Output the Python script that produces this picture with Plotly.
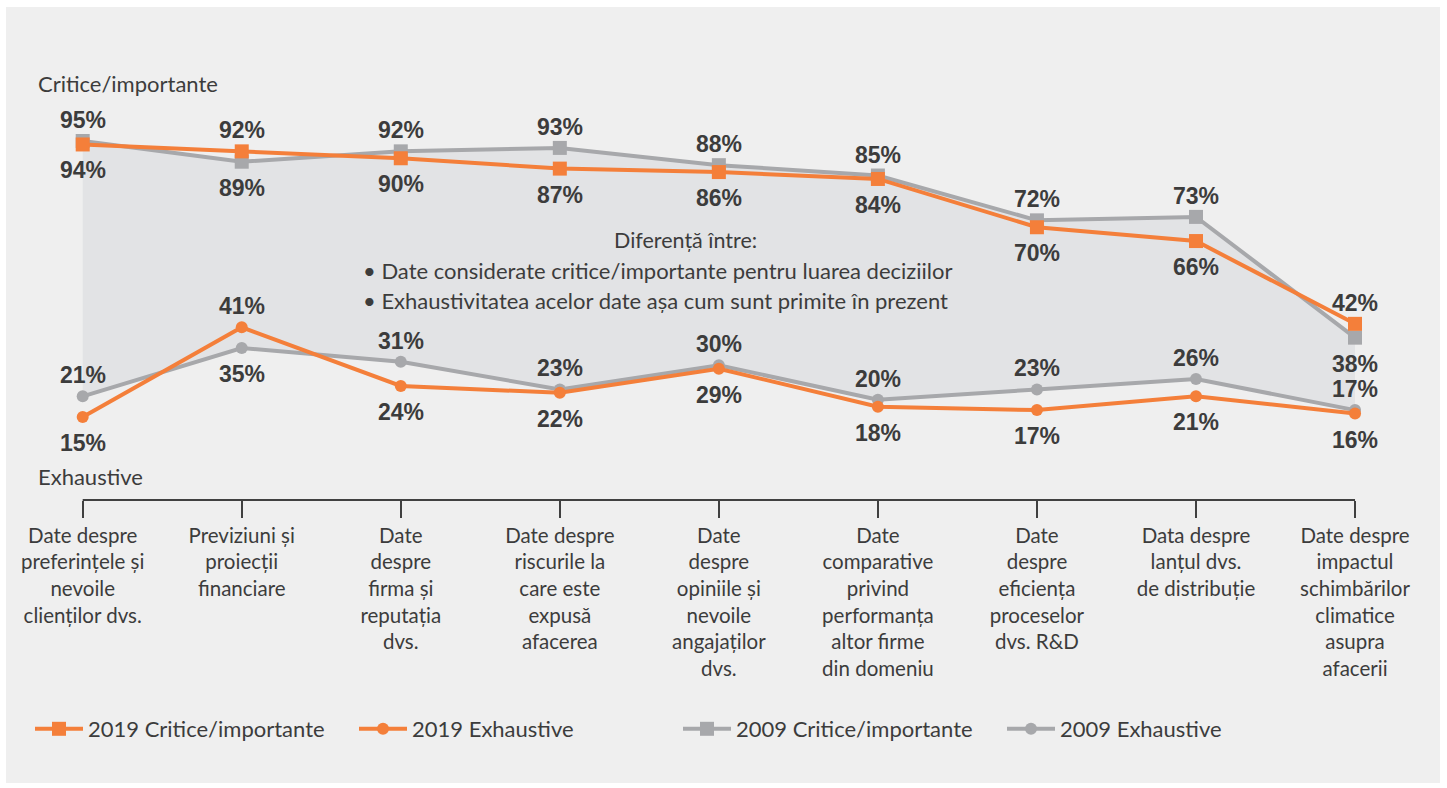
import plotly.graph_objects as go

categories = [
    "Date despre<br>preferințele și<br>nevoile<br>clienților dvs.",
    "Previziuni și<br>proiecții<br>financiare",
    "Date<br>despre<br>firma și<br>reputația<br>dvs.",
    "Date despre<br>riscurile la<br>care este<br>expusă<br>afacerea",
    "Date<br>despre<br>opiniile și<br>nevoile<br>angajaților<br>dvs.",
    "Date<br>comparative<br>privind<br>performanța<br>altor firme<br>din domeniu",
    "Date<br>despre<br>eficiența<br>proceselor<br>dvs. R&D",
    "Data despre<br>lanțul dvs.<br>de distribuție",
    "Date despre<br>impactul<br>schimbărilor<br>climatice<br>asupra<br>afacerii",
]
crit_2019 = [94, 92, 90, 87, 86, 84, 70, 66, 42]
exh_2019 = [15, 41, 24, 22, 29, 18, 17, 21, 16]
crit_2009 = [95, 89, 92, 93, 88, 85, 72, 73, 38]
exh_2009 = [21, 35, 31, 23, 30, 20, 23, 26, 17]

ORANGE = "#f47f3a"
GRAY = "#a7a8ab"
SHADE = "#e2e3e5"
PANEL = "#efefef"
TEXT = "#3c3c3c"
W, H = 1447, 788
ML, MR, MT, MB = 0, 0, 127, 288
PH = H - MT - MB

xs = list(range(len(categories)))
FONT = "Lato, 'Noto Sans', sans-serif"

def py(p):  # pixel y -> paper y
    return (H - MB - p) / PH

def px(p):
    return p / W

fig = go.Figure()

# shaded band between 2009 series
fig.add_trace(go.Scatter(
    x=xs + xs[::-1], y=crit_2009 + exh_2009[::-1], fill="toself",
    fillcolor=SHADE, line=dict(width=0), mode="lines",
    showlegend=False, hoverinfo="skip"))

series = [
    ("2009 Critice/importante", crit_2009, GRAY, "square", 14, 3, crit_2019),
    ("2009 Exhaustive", exh_2009, GRAY, "circle", 12, 4, exh_2019),
    ("2019 Critice/importante", crit_2019, ORANGE, "square", 14, 1, crit_2009),
    ("2019 Exhaustive", exh_2019, ORANGE, "circle", 12, 2, exh_2009),
]
for name, vals, col, sym, ms, rank, other in series:
    fig.add_trace(go.Scatter(
        x=xs, y=vals, name=name, mode="lines+markers",
        line=dict(color=col, width=4),
        marker=dict(symbol=sym, size=ms, color=col),
        legendrank=rank, hoverinfo="skip"))
    for i, v in enumerate(vals):
        up = v >= other[i]
        fig.add_annotation(
            x=i, y=v, text=f"{v}%", showarrow=False,
            yshift=21 if up else -26, yanchor="middle",
            font=dict(family="'Liberation Sans', Arial, sans-serif", size=23, color=TEXT, weight="bold"))

# axis line
fig.add_shape(type="line", x0=0, x1=len(categories) - 1, y0=0, y1=0,
              xref="x", yref="paper", line=dict(color="#404040", width=2))
# panel background
fig.add_shape(type="rect", xref="paper", yref="paper",
              x0=px(6), x1=px(1440), y0=py(783), y1=py(7),
              fillcolor=PANEL, line=dict(width=0), layer="below")

fig.add_annotation(x=px(36), y=py(84), xref="paper", yref="paper", text="Critice/importante",
                   showarrow=False, xanchor="left", yanchor="middle",
                   font=dict(family=FONT, size=22, color=TEXT))
fig.add_annotation(x=px(36), y=py(476), xref="paper", yref="paper", text="Exhaustive",
                   showarrow=False, xanchor="left", yanchor="middle",
                   font=dict(family=FONT, size=22, color=TEXT))
fig.add_annotation(x=px(685), y=py(240), xref="paper", yref="paper", text="Diferență între:",
                   showarrow=False, xanchor="center", yanchor="middle",
                   font=dict(family=FONT, size=21.5, color=TEXT))
fig.add_annotation(x=px(361), y=py(270), xref="paper", yref="paper",
                   text="• Date considerate critice/importante pentru luarea deciziilor",
                   showarrow=False, xanchor="left", yanchor="middle",
                   font=dict(family=FONT, size=22, color=TEXT))
fig.add_annotation(x=px(361), y=py(300), xref="paper", yref="paper",
                   text="• Exhaustivitatea acelor date așa cum sunt primite în prezent",
                   showarrow=False, xanchor="left", yanchor="middle",
                   font=dict(family=FONT, size=22, color=TEXT))

x0 = -82.7 / 159.04
x1 = (W - 82.7) / 159.04
fig.update_xaxes(range=[x0, x1], tickmode="array", tickvals=xs, ticktext=categories,
                 ticks="outside", ticklen=17, tickwidth=2, tickcolor="#404040",
                 showline=False, showgrid=False, zeroline=False,
                 tickfont=dict(family=FONT, size=20.5, color=TEXT))
fig.update_yaxes(range=[-9.06, 99.06], visible=False, showgrid=False, zeroline=False)

fig.update_layout(
    width=W, height=H, margin=dict(l=ML, r=MR, t=MT, b=MB),
    paper_bgcolor="white", plot_bgcolor="rgba(0,0,0,0)",
    showlegend=True,
    legend=dict(orientation="h", x=px(30), y=py(729), xanchor="left", yanchor="middle",
                entrywidth=261, entrywidthmode="pixels", itemwidth=48,
                bgcolor="rgba(0,0,0,0)",
                font=dict(family=FONT, size=22, color=TEXT), traceorder="normal"),
)

fig.write_html("out.html")
